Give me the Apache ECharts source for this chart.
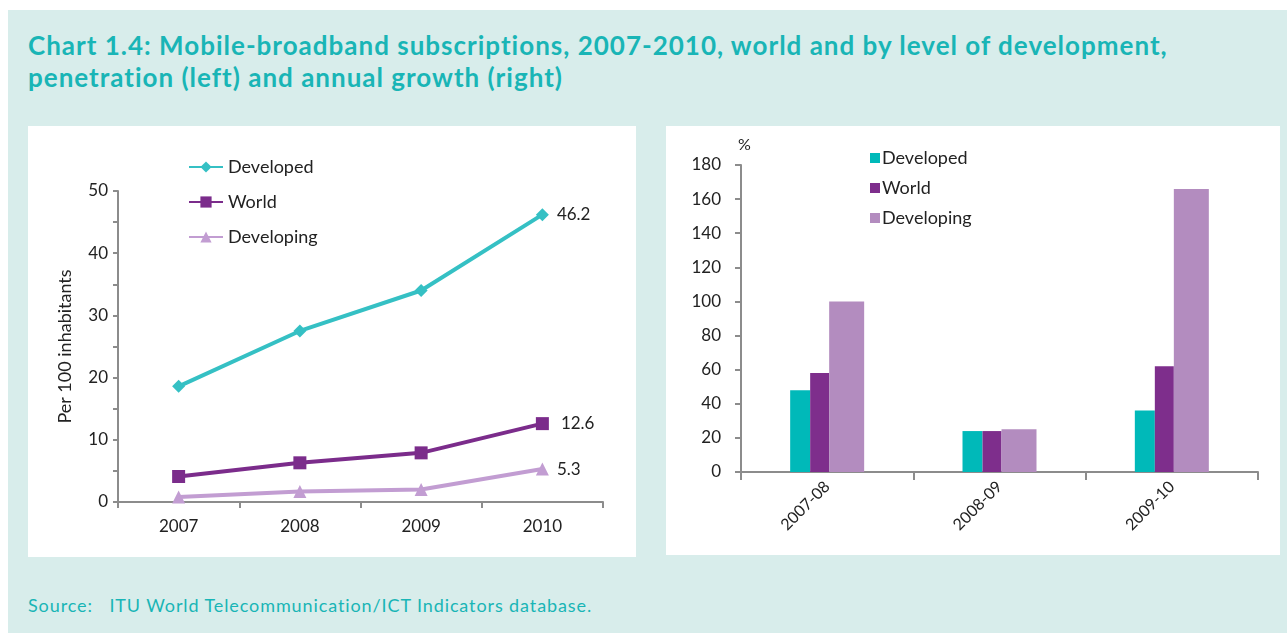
<!DOCTYPE html>
<html>
<head>
<meta charset="utf-8">
<script src="https://cdn.jsdelivr.net/npm/echarts@6/dist/echarts.min.js"></script>
<style>
  html, body { margin: 0; padding: 0; background: #ffffff; width: 1287px; height: 633px; overflow: hidden; }
  #frame { position: absolute; left: 8px; top: 10px; width: 1279px; height: 623px; background: #d8edeb; }
  #title { position: absolute; left: 28px; top: 29px; margin: 0; font-family: Lato, "Open Sans", sans-serif;
           font-weight: bold; font-size: 26px; line-height: 32px; color: #19b5b6; letter-spacing: 1px; white-space: nowrap; }
  .panel { position: absolute; background: #ffffff; }
  #left { left: 28px; top: 126px; width: 608px; height: 431px; }
  #right { left: 666px; top: 126px; width: 614px; height: 429px; }
  #source { position: absolute; left: 28px; top: 594px; font-family: Lato, "Open Sans", sans-serif;
            font-size: 18px; letter-spacing: 0.9px; color: #19b5b6; white-space: pre; }
</style>
</head>
<body>
<div id="frame"></div>
<div id="title">Chart 1.4: Mobile-broadband subscriptions, 2007-2010, world and by level of development,<br>penetration (left) and annual growth (right)</div>
<div id="left" class="panel"></div>
<div id="right" class="panel"></div>
<div id="source">Source:   ITU World Telecommunication/ICT Indicators database.</div>
<script>
// Penetration, per 100 inhabitants
const years = ['2007', '2008', '2009', '2010'];
const developedPen = [18.6, 27.5, 34.0, 46.2];
const worldPen = [4.1, 6.3, 7.9, 12.6];
const developingPen = [0.8, 1.7, 2.0, 5.3];

// Annual growth, %
const periods = ['2007-08', '2008-09', '2009-10'];
const developedGrowth = [48, 24, 36];
const worldGrowth = [58, 24, 62];
const developingGrowth = [100, 25, 166];

const FONT = 'Lato, "Open Sans", sans-serif';
const TXT = '#222222';
const AXIS = '#8c8c8c';

const C_DEV_LINE = '#35c0c4', C_WORLD_LINE = '#7b2c8b', C_DVG_LINE = '#c29dd2';
const C_DEV_BAR = '#00b9b9', C_WORLD_BAR = '#7e2e8c', C_DVG_BAR = '#b38cbf';

// Label only the final year's value
function lastLabelled(values, offsetX) {
  return values.map((v, i) => i === values.length - 1
    ? { value: v, label: { show: true, position: 'right', distance: 8, offset: [offsetX, 0],
        color: TXT, fontSize: 17, fontFamily: FONT } }
    : v);
}

const leftChart = echarts.init(document.getElementById('left'), null, { renderer: 'canvas' });
leftChart.setOption({
  animation: false,
  textStyle: { fontFamily: FONT },
  grid: { left: 90, right: 33, top: 65, bottom: 55 },
  legend: {
    orient: 'vertical', left: 155, top: 27, itemGap: 17, itemWidth: 34, itemHeight: 14,
    textStyle: { fontSize: 18, color: TXT, fontFamily: FONT },
    data: ['Developed', 'World', 'Developing']
  },
  xAxis: {
    type: 'category', data: years, boundaryGap: true,
    axisLine: { lineStyle: { color: AXIS, width: 2 } },
    axisTick: { show: true, length: 6, lineStyle: { color: AXIS, width: 2 } },
    axisLabel: { color: TXT, fontSize: 17, margin: 16, fontFamily: FONT }
  },
  yAxis: {
    type: 'value', min: 0, max: 50, interval: 10,
    name: 'Per 100 inhabitants', nameLocation: 'middle', nameGap: 44, nameRotate: 90,
    nameTextStyle: { color: TXT, fontSize: 18, fontFamily: FONT },
    splitLine: { show: false },
    axisLine: { show: true, lineStyle: { color: AXIS, width: 2 } },
    axisTick: { show: true, length: 5, lineStyle: { color: AXIS, width: 2 } },
    minorTick: { show: true, splitNumber: 2, length: 5, lineStyle: { color: AXIS, width: 2 } },
    axisLabel: { color: TXT, fontSize: 17, margin: 10, fontFamily: FONT }
  },
  series: [
    { name: 'Developed', type: 'line', data: lastLabelled(developedPen, 0),
      symbol: 'diamond', symbolSize: 13, color: C_DEV_LINE, lineStyle: { width: 4, color: C_DEV_LINE },
      itemStyle: { color: C_DEV_LINE } },
    { name: 'World', type: 'line', data: lastLabelled(worldPen, 4),
      symbol: 'rect', symbolSize: 13, color: C_WORLD_LINE, lineStyle: { width: 4, color: C_WORLD_LINE },
      itemStyle: { color: C_WORLD_LINE } },
    { name: 'Developing', type: 'line', data: lastLabelled(developingPen, 0),
      symbol: 'triangle', symbolSize: 13, color: C_DVG_LINE, lineStyle: { width: 4, color: C_DVG_LINE },
      itemStyle: { color: C_DVG_LINE } }
  ]
});

const rightChart = echarts.init(document.getElementById('right'), null, { renderer: 'canvas' });
rightChart.setOption({
  animation: false,
  textStyle: { fontFamily: FONT },
  grid: { left: 75, right: 22, top: 39, bottom: 83 },
  legend: {
    orient: 'vertical', left: 199, top: 18, itemGap: 12, itemWidth: 10, itemHeight: 10,
    icon: 'rect',
    textStyle: { fontSize: 18, color: TXT, fontFamily: FONT, padding: [0, 0, 0, -3] },
    data: ['Developed', 'World', 'Developing']
  },
  xAxis: {
    type: 'category', data: periods, boundaryGap: true,
    axisLine: { lineStyle: { color: AXIS, width: 2 } },
    axisTick: { show: true, length: 8, lineStyle: { color: AXIS, width: 2 } },
    axisLabel: { color: TXT, fontSize: 16, rotate: 45, margin: 12, fontFamily: FONT }
  },
  yAxis: {
    type: 'value', min: 0, max: 180, interval: 20,
    name: '%', nameLocation: 'end', nameGap: 12,
    nameTextStyle: { color: TXT, fontSize: 16, fontFamily: FONT, align: 'left', padding: [0, 0, 0, -3] },
    splitLine: { show: false },
    axisLine: { show: true, lineStyle: { color: AXIS, width: 2 } },
    axisTick: { show: true, length: 6, lineStyle: { color: AXIS, width: 2 } },
    axisLabel: { color: TXT, fontSize: 17, margin: 20, fontFamily: FONT }
  },
  series: [
    { name: 'Developed', type: 'bar', data: developedGrowth, barWidth: 20, barGap: '0%',
      itemStyle: { color: C_DEV_BAR } },
    { name: 'World', type: 'bar', data: worldGrowth, barWidth: 19, barGap: '0%',
      itemStyle: { color: C_WORLD_BAR } },
    { name: 'Developing', type: 'bar', data: developingGrowth, barWidth: 35, barGap: '0%',
      itemStyle: { color: C_DVG_BAR } }
  ]
});
</script>
</body>
</html>
